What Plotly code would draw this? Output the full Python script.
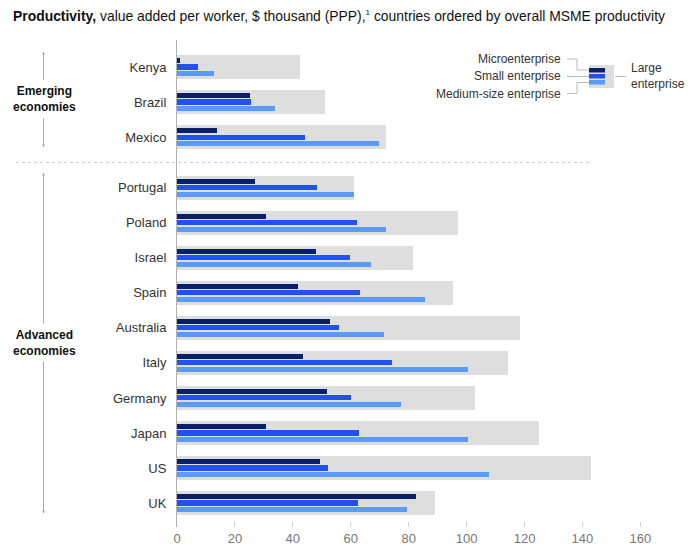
import plotly.graph_objects as go

countries = ["Kenya", "Brazil", "Mexico", "Portugal", "Poland", "Israel", "Spain",
             "Australia", "Italy", "Germany", "Japan", "US", "UK"]
groups = ["Emerging", "Emerging", "Emerging"] + ["Advanced"] * 10
micro = [0.9, 25.2, 13.8, 27.1, 30.7, 48.1, 41.8, 52.9, 43.6, 51.7, 30.9, 49.4, 82.5]
small = [7.3, 25.7, 44.3, 48.3, 62.2, 59.7, 63.2, 56.0, 74.3, 60.1, 63.0, 52.1, 62.6]
medium = [12.7, 33.9, 69.6, 61.0, 72.0, 67.0, 85.7, 71.5, 100.5, 77.2, 100.5, 107.9, 79.5]
large = [42.5, 51.1, 72.3, 61.2, 97.0, 81.5, 95.2, 118.3, 114.4, 103.0, 125.1, 143.0, 89.2]
x_ticks = [0, 20, 40, 60, 80, 100, 120, 140, 160]

group_labels = {"Emerging": "Emerging<br>economies", "Advanced": "Advanced<br>economies"}

C_MICRO = "#0a1f6b"
C_SMALL = "#2250f4"
C_MED = "#5b9bf8"
C_LARGE = "#dedede"
FONT = "Liberation Sans"

# layout geometry
W, H = 691, 552
ML, MR, MT, MB = 177, 36, 40, 25
PW, PH = W - ML - MR, H - MT - MB
PX_PER_UNIT = 2.896
ROW_PX = 35.02
GAP = 0.45

# y positions (row index plus a gap between groups)
pos = []
p = 0.0
for i, g in enumerate(groups):
    if i > 0 and g != groups[i - 1]:
        p += GAP
    pos.append(p)
    p += 1

def xp(px):
    return (px - ML) / PW

def yp(py):
    return 1 - (py - MT) / PH

y_top = -(67 - MT) / ROW_PX
y_bot = y_top + PH / ROW_PX

fig = go.Figure()

BW = 0.145
PITCH = 0.183
fig.add_trace(go.Bar(y=pos, x=large, orientation="h", width=0.68, offset=-0.34,
                     marker=dict(color=C_LARGE, line_width=0), name="Large enterprise",
                     hoverinfo="x"))
for vals, col, c, nm in [(micro, C_MICRO, -PITCH, "Microenterprise"),
                         (small, C_SMALL, 0.0, "Small enterprise"),
                         (medium, C_MED, PITCH, "Medium-size enterprise")]:
    fig.add_trace(go.Bar(y=pos, x=vals, orientation="h", width=BW, offset=c - BW / 2,
                         marker=dict(color=col, line_width=0), name=nm, hoverinfo="x"))

shapes = []
annotations = []

# separator between groups
for i in range(1, len(groups)):
    if groups[i] != groups[i - 1]:
        ysep = (pos[i] + pos[i - 1]) / 2
        shapes.append(dict(type="line", xref="paper", yref="y", x0=xp(16), x1=xp(590),
                           y0=ysep, y1=ysep, line=dict(color="#c8c8c8", width=1, dash="dot")))

# group labels with arrows
for g in ["Emerging", "Advanced"]:
    idx = [i for i, gg in enumerate(groups) if gg == g]
    first, last = pos[idx[0]], pos[idx[-1]]
    mid = (first + last) / 2 - 0.08
    tip_up = first - 0.44
    tip_dn = last + 0.3
    lab_half = 0.5
    annotations.append(dict(xref="paper", yref="y", x=xp(44), y=mid, text="<b>" + group_labels[g] + "</b>",
                            showarrow=False, font=dict(family=FONT, size=12, color="#111"),
                            xanchor="center", yanchor="middle", align="center"))
    for tip, tail in [(tip_up, mid - lab_half), (tip_dn, mid + lab_half)]:
        annotations.append(dict(xref="paper", yref="y", x=xp(43.5), y=tip, axref="pixel", ayref="y",
                                ax=0, ay=tail, text="", showarrow=True, arrowhead=2, arrowsize=0.6,
                                arrowwidth=1, arrowcolor="#aaaaaa"))

# title
annotations.append(dict(xref="paper", yref="paper", x=xp(11), y=yp(16), xanchor="left", yanchor="middle",
                        showarrow=False, align="left",
                        text="<b>Productivity,</b> value added per worker, $ thousand (PPP),<sup><span style='font-size:8px'>1</span></sup> countries ordered by overall MSME productivity",
                        font=dict(family=FONT, size=13.9, color="#111")))

# custom legend
shapes.append(dict(type="rect", xref="paper", yref="paper", x0=xp(589), x1=xp(614), y0=yp(65), y1=yp(88),
                   fillcolor=C_LARGE, line_width=0))
for col, (a, b) in [(C_MICRO, (68, 72.5)), (C_SMALL, (74, 78.5)), (C_MED, (80, 84.5))]:
    shapes.append(dict(type="rect", xref="paper", yref="paper", x0=xp(589), x1=xp(605), y0=yp(a), y1=yp(b),
                       fillcolor=col, line_width=0))
LC = "#bbbbbb"
def seg(x0, y0, x1, y1):
    shapes.append(dict(type="line", xref="paper", yref="paper", x0=xp(x0), x1=xp(x1), y0=yp(y0), y1=yp(y1),
                       line=dict(color=LC, width=1)))
seg(567, 59, 577, 59); seg(577, 59, 577, 70); seg(577, 70, 589, 70)
seg(567, 76.5, 589, 76.5)
seg(567, 93.5, 577, 93.5); seg(577, 93.5, 577, 82.5); seg(577, 82.5, 589, 82.5)
seg(615, 76.5, 626, 76.5)
for txt, yy in [("Microenterprise", 59), ("Small enterprise", 76.5), ("Medium-size enterprise", 93.5)]:
    annotations.append(dict(xref="paper", yref="paper", x=xp(563), y=yp(yy), xanchor="right", yanchor="middle",
                            text=txt, showarrow=False, font=dict(family=FONT, size=12, color="#333")))
annotations.append(dict(xref="paper", yref="paper", x=xp(629), y=yp(76.5), xanchor="left", yanchor="middle",
                        text="Large<br>enterprise", showarrow=False, align="left",
                        font=dict(family=FONT, size=12, color="#333")))

fig.update_layout(
    width=W, height=H, margin=dict(l=ML, r=MR, t=MT, b=MB, autoexpand=False),
    paper_bgcolor="white", plot_bgcolor="white",
    barmode="overlay", showlegend=False, bargap=0,
    shapes=shapes, annotations=annotations,
    font=dict(family=FONT, size=13, color="#333"),
)
fig.update_xaxes(range=[0, PW / PX_PER_UNIT], tickvals=x_ticks, ticks="inside", ticklen=5,
                 tickcolor="#cccccc", showgrid=False, zeroline=False, showline=False,
                 ticklabelstandoff=2, automargin=False,
                 tickfont=dict(family=FONT, size=13, color="#777"), fixedrange=True)
fig.update_yaxes(range=[y_bot, y_top], tickvals=pos, ticktext=countries, showgrid=False,
                 zeroline=False, showline=True, linecolor="#b0b0b0", linewidth=1, ticks="",
                 ticklabelstandoff=7, automargin=False,
                 tickfont=dict(family=FONT, size=13, color="#333"), fixedrange=True)

fig.write_html("out.html", config={"displayModeBar": False, "staticPlot": True},
               post_script="document.body.style.margin='0';")
